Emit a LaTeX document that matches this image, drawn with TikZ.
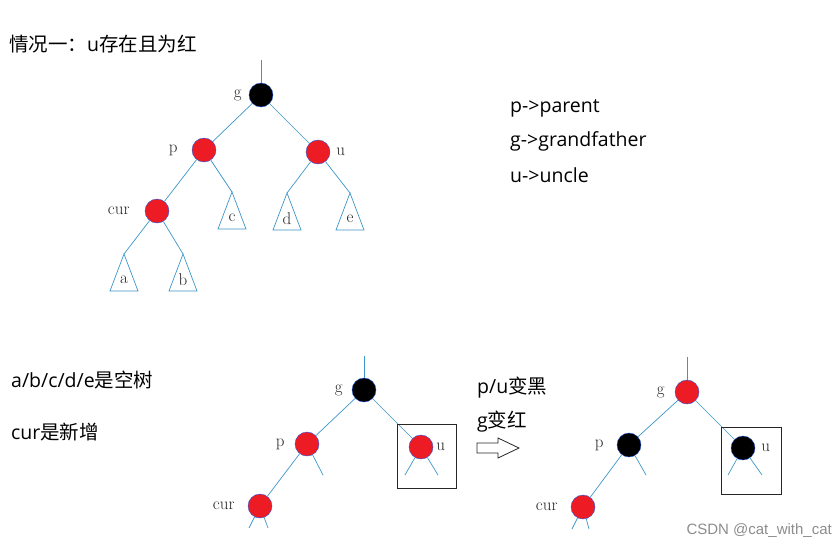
\documentclass[tikz,border=0pt]{standalone}
\usepackage{fontspec}
\usepackage{tikz}
\usetikzlibrary{arrows}
\usetikzlibrary{calc}
\newfontfamily\cjk{Noto Sans CJK SC}
\newfontfamily\lat{Open Sans}
\newfontfamily\wmfont{Liberation Sans}
\definecolor{treeblue}{RGB}{60,150,200}
\definecolor{nodered}{RGB}{237,28,36}
\newcommand{\nulltree}[3]{%
	\coordinate (#1) at #2;
	\draw[edge] (#1) -- ++(-14,37) -- ++(28,0) -- cycle;
	\node[lbl] (#1l) at ($(#1)+(0,26)$) {#3};
}

\begin{document}
\begin{tikzpicture}[
		x=1pt, y=-1pt,
		rnode/.style={circle,draw=treeblue!60!blue,fill=nodered,thin,
		inner sep=0pt,minimum size=24pt},
		bnode/.style={rnode,fill=black},
		edge/.style={draw=treeblue, line width=0.7pt},
		lbl/.style={inner sep=1pt, text=black!85, font=\fontsize{17}{17}\selectfont},
		note/.style={anchor=west, inner sep=0pt, font=\cjk\fontsize{19.5}{19.5}\selectfont}
		]
		\useasboundingbox (0,0) rectangle (838,549);
		\node[note] (title) at (9,44) {情况一：{\lat u}存在且为红};
		\node[note] (np) at (510,108) {\lat p->parent};
		\node[note] (ng) at (510,141) {\lat g->grandfather};
		\node[note] (nu) at (510,175) {\lat u->uncle};
		\node[note] (empty) at (11,380) {{\lat a/b/c/d/e}是空树};
		\node[note] (new) at (11,432) {{\lat cur}是新增};
		\node[note] (turn1) at (477,388) {{\lat p/u}变黑};
		\node[note] (turn2) at (477,422) {{\lat g}变红};

		\node[bnode, label={[lbl,label distance=6pt]left:g}] (g1) at (261,95) {};
		\node[rnode, label={[lbl,label distance=13pt]left:p}] (p1) at (204,150) {};
		\node[rnode, label={[lbl,label distance=5pt]right:u}] (u1) at (318,152) {};
		\node[rnode, label={[lbl,label distance=14pt]left:cur}] (cur1) at (157,211) {};
		\nulltree{a}{(124,254)}{a}
		\nulltree{b}{(183,254)}{b}
		\nulltree{c}{(232,192)}{c}
		\nulltree{d}{(287,193)}{d}
		\nulltree{e}{(350,193)}{e}
		\draw[edge] (g1) -- ++(0,-35);
		\draw[edge] (g1) -- (p1);
		\draw[edge] (g1) -- (u1);
		\draw[edge] (p1) -- (cur1);
		\draw[edge] (p1) -- (c);
		\draw[edge] (u1) -- (d);
		\draw[edge] (u1) -- (e);
		\draw[edge] (cur1) -- (a);
		\draw[edge] (cur1) -- (b);

		\node[bnode, label={[lbl,label distance=8pt]left:g}] (g2) at (364,390) {};
		\node[rnode, label={[lbl,label distance=9pt]left:p}] (p2) at (307,444) {};
		\node[rnode, label={[lbl,label distance=2pt]right:u}] (u2) at (421,447) {};
		\node[rnode, label={[lbl,label distance=12pt]left:cur}] (cur2) at (260,506) {};
		\draw[edge] (g2) -- ++(0,-34);
		\draw[edge] (g2) -- (p2);
		\draw[edge] (g2) -- (u2);
		\draw[edge] (p2) -- (cur2);
		\draw[edge] (p2) -- ++(16,31);
		\draw[edge] (u2) -- ++(-16,28);
		\draw[edge] (u2) -- ++(17,28);
		\draw[edge] (cur2) -- ++(-11,22);
		\draw[edge] (cur2) -- ++(8,22);
		\draw[black!85, line width=0.8pt] (u2) ++(-24,-23) rectangle ++(59,64);

		\draw[black!85, line width=0.8pt, fill=white] (477,443) -- (498,443) -- (498,438) -- (519,448)
			-- (498,458) -- (498,453) -- (477,453) -- cycle;

		\node[rnode, label={[lbl,label distance=9pt]left:g}] (g3) at (687,392) {};
		\node[bnode, label={[lbl,label distance=12pt]left:p}] (p3) at (629,445) {};
		\node[bnode, label={[lbl,label distance=5pt]right:u}] (u3) at (743,448) {};
		\node[rnode, label={[lbl,label distance=12pt]left:cur}] (cur3) at (583,507) {};
		\draw[edge] (g3) -- ++(0,-35);
		\draw[edge] (g3) -- (p3);
		\draw[edge] (g3) -- (u3);
		\draw[edge] (p3) -- (cur3);
		\draw[edge] (p3) -- ++(17,30);
		\draw[edge] (u3) -- ++(-15,27);
		\draw[edge] (u3) -- ++(19,27);
		\draw[edge] (cur3) -- ++(-11,22);
		\draw[edge] (cur3) -- ++(6,22);
		\draw[black!85, line width=0.8pt] (u3) ++(-22,-21) rectangle ++(60,67);

		\node[anchor=east, inner sep=0pt, text=black!45,
			font=\wmfont\fontsize{15}{15}\selectfont] (mark) at (832,531) {CSDN @cat\_with\_cat};
	\end{tikzpicture}
\end{document}
